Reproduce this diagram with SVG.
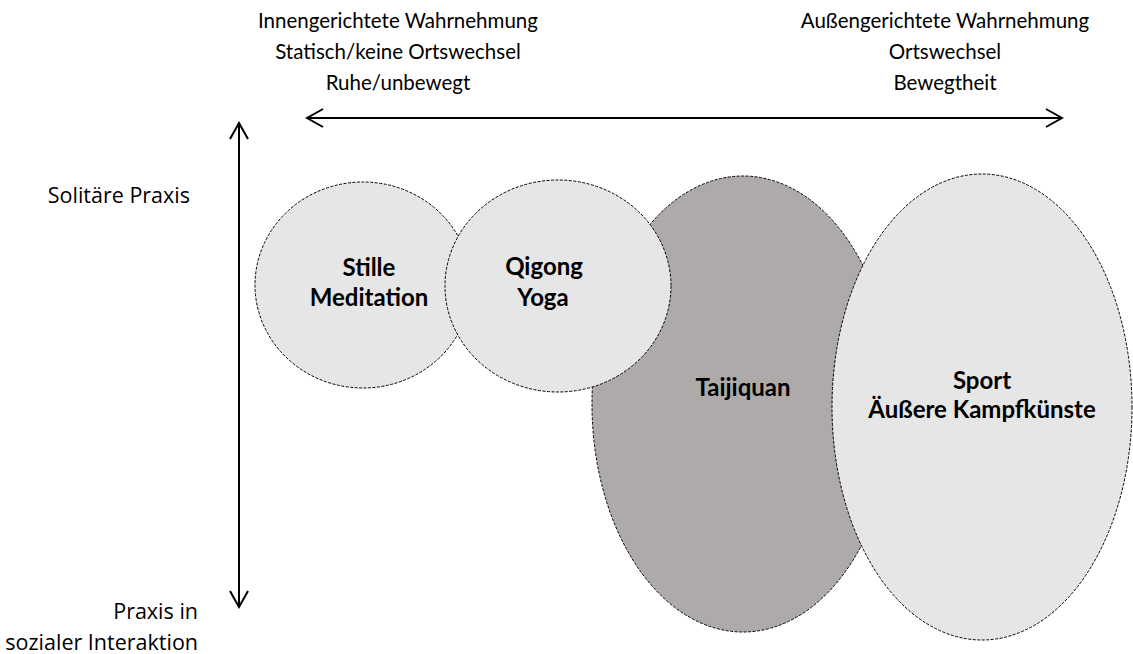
<svg xmlns="http://www.w3.org/2000/svg" width="1133" height="654" viewBox="0 0 1133 654">
<style>
text{font-family:Lato,"Liberation Sans",sans-serif;font-size:20.5px;fill:#000}
.side{font-family:"Open Sans","Liberation Sans",sans-serif;font-size:21.5px}
.b{font-weight:bold;font-size:24px}
.m{text-anchor:middle}
.e{text-anchor:end}
.sh{stroke:#000;stroke-width:1;stroke-dasharray:3 1.5}
.lt{fill:#e6e6e6}
.dk{fill:#aeaaaa}
.ax{stroke:#000;stroke-width:2;fill:none}
</style>
<defs>
<marker id="ah" viewBox="0 0 20 20" refX="18" refY="10" markerWidth="20" markerHeight="20" markerUnits="userSpaceOnUse" orient="auto-start-reverse">
<path d="M2,1 L18,10 L2,19" fill="none" stroke="#000" stroke-width="2"/>
</marker>
</defs>
<rect width="1133" height="654" fill="#fff"/>
<g id="header-left">
<text class="m" x="398" y="28">Innengerichtete Wahrnehmung</text>
<text class="m" x="398" y="59">Statisch/keine Ortswechsel</text>
<text class="m" x="398" y="90">Ruhe/unbewegt</text>
</g>
<g id="header-right">
<text class="m" x="945" y="28">Außengerichtete Wahrnehmung</text>
<text class="m" x="945" y="59">Ortswechsel</text>
<text class="m" x="945" y="90">Bewegtheit</text>
</g>
<g id="label-solitary"><text class="side e" x="190" y="203">Solitäre Praxis</text></g>
<g id="label-social">
<text class="side e" x="198" y="619">Praxis in</text>
<text class="side e" x="198" y="650">sozialer Interaktion</text>
</g>
<g id="connectors">
<line class="ax" x1="239" y1="123" x2="239" y2="607" marker-start="url(#ah)" marker-end="url(#ah)"/>
<line class="ax" x1="307" y1="118" x2="1062" y2="118" marker-start="url(#ah)" marker-end="url(#ah)"/>
</g>
<g id="stille">
<ellipse class="lt sh" cx="363" cy="285" rx="108" ry="103"/>
<text class="m b" x="369" y="276">Stille</text>
<text class="m b" x="369" y="306">Meditation</text>
</g>
<g id="taijiquan">
<ellipse class="dk sh" cx="743" cy="404" rx="151" ry="228"/>
<text class="m b" x="743" y="396">Taijiquan</text>
</g>
<g id="qigong">
<ellipse class="lt sh" cx="558" cy="286" rx="113" ry="106"/>
<text class="m b" x="544" y="275">Qigong</text>
<text class="m b" x="543" y="306">Yoga</text>
</g>
<g id="sport">
<ellipse class="lt sh" cx="982" cy="407" rx="150" ry="233"/>
<text class="m b" x="982" y="389">Sport</text>
<text class="m b" x="982" y="418">Äußere Kampfkünste</text>
</g>
</svg>
